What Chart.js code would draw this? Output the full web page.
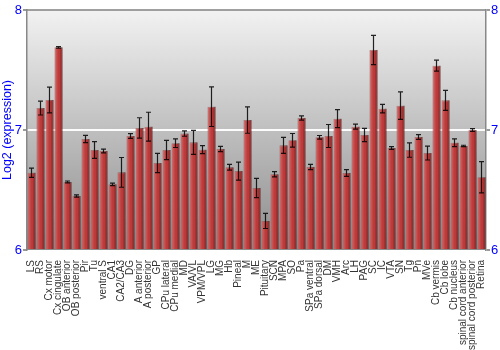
<!DOCTYPE html>
<html>
<head>
<meta charset="utf-8">
<script src="https://cdn.jsdelivr.net/npm/chart.js@4.4.1/dist/chart.umd.min.js"></script>
<style>
  html, body { margin: 0; padding: 0; background: #fff; }
  #wrap { width: 500px; height: 350px; }
</style>
</head>
<body>
<div id="wrap"><canvas id="myChart" width="500" height="350"></canvas></div>
<script>
// regioes do cerebro (eixo x)
const regioes = ["LS", "RS", "Cx motor", "Cx cingulate", "OB anterior", "OB posterior", "Pir", "Tu",
  "ventral S", "CA1", "CA2/CA3", "DG", "A anterior", "A posterior", "GP", "CPu lateral", "CPu medial",
  "MD", "VA/VL", "VPM/VPL", "LG", "MG", "Hb", "Pineal", "M", "ME", "Pituitary", "SCN", "MPA", "SO",
  "Pa", "SPa ventral", "SPa dorsal", "DM", "VMH", "Arc", "LH", "PAG", "SC", "IC", "VTA", "SN", "Tg",
  "Pn", "MVe", "Cb vermis", "Cb lobe", "Cb nucleus", "spinal cord anterior", "spinal cord posterior", "Retina"];

// log2 da expressao
const expressao = [6.644, 7.183, 7.25, 7.689, 6.567, 6.45, 6.925, 6.833,
  6.825, 6.547, 6.647, 6.95, 7.017, 7.028, 6.725, 6.833, 6.89,
  6.97, 6.897, 6.836, 7.194, 6.842, 6.689, 6.658, 7.083, 6.517, 6.242, 6.631, 6.872, 6.914,
  7.1, 6.692, 6.939, 6.95, 7.094, 6.642, 7.028, 6.958, 7.667, 7.178, 6.85, 7.203, 6.833,
  6.942, 6.808, 7.536, 7.247, 6.894, 6.867, 7.0, 6.606];

// erro padrao (meia barra)
const erro = [0.039, 0.058, 0.107, 0.007, 0.008, 0.01, 0.03, 0.07,
  0.015, 0.01, 0.124, 0.02, 0.085, 0.12, 0.08, 0.08, 0.036,
  0.022, 0.1, 0.033, 0.165, 0.022, 0.024, 0.075, 0.11, 0.08, 0.063, 0.022, 0.067, 0.057,
  0.018, 0.022, 0.015, 0.096, 0.075, 0.028, 0.021, 0.055, 0.122, 0.035, 0.011, 0.115, 0.06,
  0.02, 0.058, 0.046, 0.083, 0.032, 0.006, 0.011, 0.13];

const yTicks = [6, 7, 8];

// fundo cinza com degrade e linha do topo
const fundo = {
  id: "fundo",
  beforeDraw(chart) {
    const { ctx, chartArea: a } = chart;
    const g = ctx.createLinearGradient(0, a.top, 0, a.bottom);
    g.addColorStop(0, "#f2f2f2");
    g.addColorStop(1, "#8c8c8c");
    ctx.save();
    ctx.fillStyle = g;
    ctx.fillRect(a.left, a.top, a.right - a.left, a.bottom - a.top);
    ctx.strokeStyle = "#808080";
    ctx.lineWidth = 1.5;
    ctx.beginPath();
    ctx.moveTo(a.left, a.top);
    ctx.lineTo(a.right, a.top);
    ctx.stroke();
    ctx.restore();
  }
};

// brilho nas barras + barras de erro
const barrasErro = {
  id: "barrasErro",
  afterDatasetsDraw(chart) {
    const { ctx, chartArea: a } = chart;
    const y = chart.scales.y;
    const meta = chart.getDatasetMeta(0);
    ctx.save();
    meta.data.forEach((el, i) => {
      const w = el.width;
      const l = el.x - w / 2;
      const g = ctx.createLinearGradient(l, 0, l + w, 0);
      g.addColorStop(0, "rgba(255,255,255,0.15)");
      g.addColorStop(0.3, "rgba(255,255,255,0.12)");
      g.addColorStop(0.6, "rgba(0,0,0,0)");
      g.addColorStop(1, "rgba(60,0,0,0.45)");
      ctx.fillStyle = g;
      ctx.fillRect(l, el.y, w, Math.min(el.base, a.bottom) - el.y);
    });
    ctx.strokeStyle = "rgba(0,0,0,0.85)";
    ctx.lineWidth = 1.2;
    meta.data.forEach((el, i) => {
      const t = y.getPixelForValue(expressao[i] + erro[i]);
      const b = y.getPixelForValue(expressao[i] - erro[i]);
      ctx.beginPath();
      ctx.moveTo(el.x, t); ctx.lineTo(el.x, b);
      ctx.moveTo(el.x - 2.5, t); ctx.lineTo(el.x + 2.5, t);
      ctx.moveTo(el.x - 2.5, b); ctx.lineTo(el.x + 2.5, b);
      ctx.stroke();
    });
    ctx.restore();
  }
};

const eixoY = (pos) => ({
  position: pos,
  min: 6,
  max: 8,
  afterBuildTicks: (s) => { s.ticks = yTicks.map((v) => ({ value: v })); },
  afterFit: (s) => { s.width = pos === "left" ? 27 : 14; },
  border: { display: true, color: "#888", width: 1.5 },
  grid: {
    drawOnChartArea: pos === "left",
    color: (c) => (c.tick && c.tick.value === 7 ? "rgba(255,255,255,0.95)" : "rgba(0,0,0,0)"),
    lineWidth: 2,
    tickColor: "#777",
    tickLength: 4,
    tickWidth: 1.5
  },
  ticks: {
    color: "#0000ff",
    padding: 1,
    font: { family: "Liberation Sans", size: 13 }
  },
  title: {
    display: pos === "left",
    text: "Log2 (expression)",
    color: "#0000ff",
    padding: 0,
    font: { family: "Liberation Sans", size: 12.5 }
  }
});

const config = {
  type: "bar",
  data: {
    labels: regioes,
    datasets: [{
      data: expressao,
      base: 6,
      backgroundColor: "#c23a3a",
      borderColor: "rgba(110,20,20,0.6)",
      borderWidth: 0.8,
      barPercentage: 0.9,
      categoryPercentage: 1
    }]
  },
  options: {
    responsive: false,
    animation: false,
    layout: { padding: { top: 10, right: 0, left: 0, bottom: 0 } },
    plugins: { legend: { display: false }, tooltip: { enabled: false } },
    scales: {
      x: {
        afterFit: (s) => { s.height = 100; },
        border: { display: false },
        grid: { display: false },
        ticks: {
          autoSkip: false,
          maxRotation: 90,
          minRotation: 90,
          padding: 2,
          color: "#333",
          font: { family: "Liberation Sans", size: 10 }
        }
      },
      y: eixoY("left"),
      y2: eixoY("right")
    }
  },
  plugins: [fundo, barrasErro]
};

const myChart = new Chart(document.getElementById("myChart"), config);
</script>
</body>
</html>
